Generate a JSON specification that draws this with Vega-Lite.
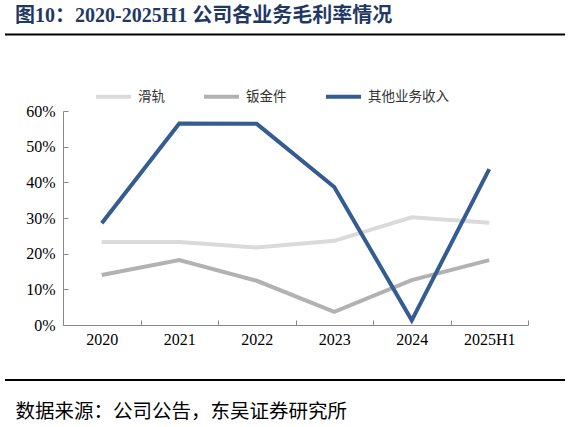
{
  "$schema": "https://vega.github.io/schema/vega-lite/v6.json",
  "width": 560,
  "height": 214,
  "autosize": {"type": "none"},
  "padding": {"left": 5, "top": 111, "right": 5, "bottom": 102},
  "background": "white",
  "config": {
    "view": {"stroke": null},
    "font": "Liberation Serif",
    "axisY": {"labelOverlap": false, "tickCount": 7, "labelBound": false, "labelFlush": false},
    "axisX": {"labelOverlap": false}
  },
  "title": {
    "text": "图10：2020-2025H1 公司各业务毛利率情况",
    "anchor": "start",
    "frame": "group",
    "dx": 10,
    "offset": 7,
    "font": "Liberation Serif, Noto Sans CJK SC",
    "fontSize": 20,
    "fontWeight": "bold",
    "color": "#1F3864"
  },
  "data": {
    "values": [
      {"year": "2020", "series": "滑轨", "value": 0.233},
      {"year": "2021", "series": "滑轨", "value": 0.233},
      {"year": "2022", "series": "滑轨", "value": 0.217},
      {"year": "2023", "series": "滑轨", "value": 0.236},
      {"year": "2024", "series": "滑轨", "value": 0.302},
      {"year": "2025H1", "series": "滑轨", "value": 0.287},
      {"year": "2020", "series": "钣金件", "value": 0.140},
      {"year": "2021", "series": "钣金件", "value": 0.182},
      {"year": "2022", "series": "钣金件", "value": 0.124},
      {"year": "2023", "series": "钣金件", "value": 0.037},
      {"year": "2024", "series": "钣金件", "value": 0.126},
      {"year": "2025H1", "series": "钣金件", "value": 0.182},
      {"year": "2020", "series": "其他业务收入", "value": 0.285},
      {"year": "2021", "series": "其他业务收入", "value": 0.565},
      {"year": "2022", "series": "其他业务收入", "value": 0.564},
      {"year": "2023", "series": "其他业务收入", "value": 0.387},
      {"year": "2024", "series": "其他业务收入", "value": 0.013},
      {"year": "2025H1", "series": "其他业务收入", "value": 0.437}
    ]
  },
  "layer": [
    {
      "mark": {"type": "line", "strokeWidth": 4, "strokeJoin": "miter"},
      "encoding": {
        "x": {
          "field": "year",
          "type": "ordinal",
          "scale": {"type": "band", "domain": ["2020", "2021", "2022", "2023", "2024", "2025H1"], "range": [58, 523], "paddingInner": 0, "paddingOuter": 0},
          "axis": {
            "title": "数据来源：公司公告，东吴证券研究所",
            "titleX": 10,
            "titleY": 86,
            "titleAnchor": "start",
            "titleAlign": "left",
            "titleBaseline": "middle",
            "titleFont": "Liberation Serif, Noto Sans CJK SC",
            "titleFontSize": 19.5,
            "titleFontWeight": "normal",
            "titleColor": "black",
            "labelAngle": 0,
            "labelFont": "Liberation Serif",
            "labelFontSize": 16,
            "labelColor": "black",
            "labelPadding": 11,
            "labelOverlap": false,
            "tickBand": "extent",
            "tickSize": -5,
            "tickColor": "#888888",
            "domainColor": "#888888",
            "grid": false
          }
        },
        "y": {
          "field": "value",
          "type": "quantitative",
          "scale": {"domain": [0, 0.6], "nice": false, "zero": true},
          "axis": {
            "title": null,
            "format": ".0%",
            "values": [0, 0.1, 0.2, 0.3, 0.4, 0.5, 0.6],
            "offset": -58,
            "tickSize": -5,
            "labelPadding": 13,
            "labelOverlap": false,
            "labelFont": "Liberation Serif",
            "labelFontSize": 16,
            "labelColor": "black",
            "tickColor": "#888888",
            "domainColor": "#888888",
            "grid": false
          }
        },
        "color": {
          "field": "series",
          "type": "nominal",
          "scale": {"domain": ["滑轨", "钣金件", "其他业务收入"], "range": ["#DADADA", "#B2B2B2", "#355C90"]},
          "legend": {
            "orient": "none",
            "legendX": 89,
            "legendY": -34,
            "direction": "horizontal",
            "title": null,
            "symbolType": "stroke",
            "symbolStrokeWidth": 4,
            "symbolSize": 1225,
            "labelFont": "Liberation Serif, Noto Sans CJK SC",
            "labelFontSize": 13.5,
            "labelColor": "#333333",
            "columnPadding": 31,
            "labelOffset": 5
          }
        }
      }
    },
    {
      "data": {"values": [{}]},
      "mark": {"type": "rule", "strokeWidth": 2, "color": "black"},
      "encoding": {"y": {"datum": 0.8145, "type": "quantitative"}}
    },
    {
      "data": {"values": [{}]},
      "mark": {"type": "rule", "strokeWidth": 2, "color": "black"},
      "encoding": {"y": {"datum": -0.1542, "type": "quantitative"}}
    }
  ]
}
